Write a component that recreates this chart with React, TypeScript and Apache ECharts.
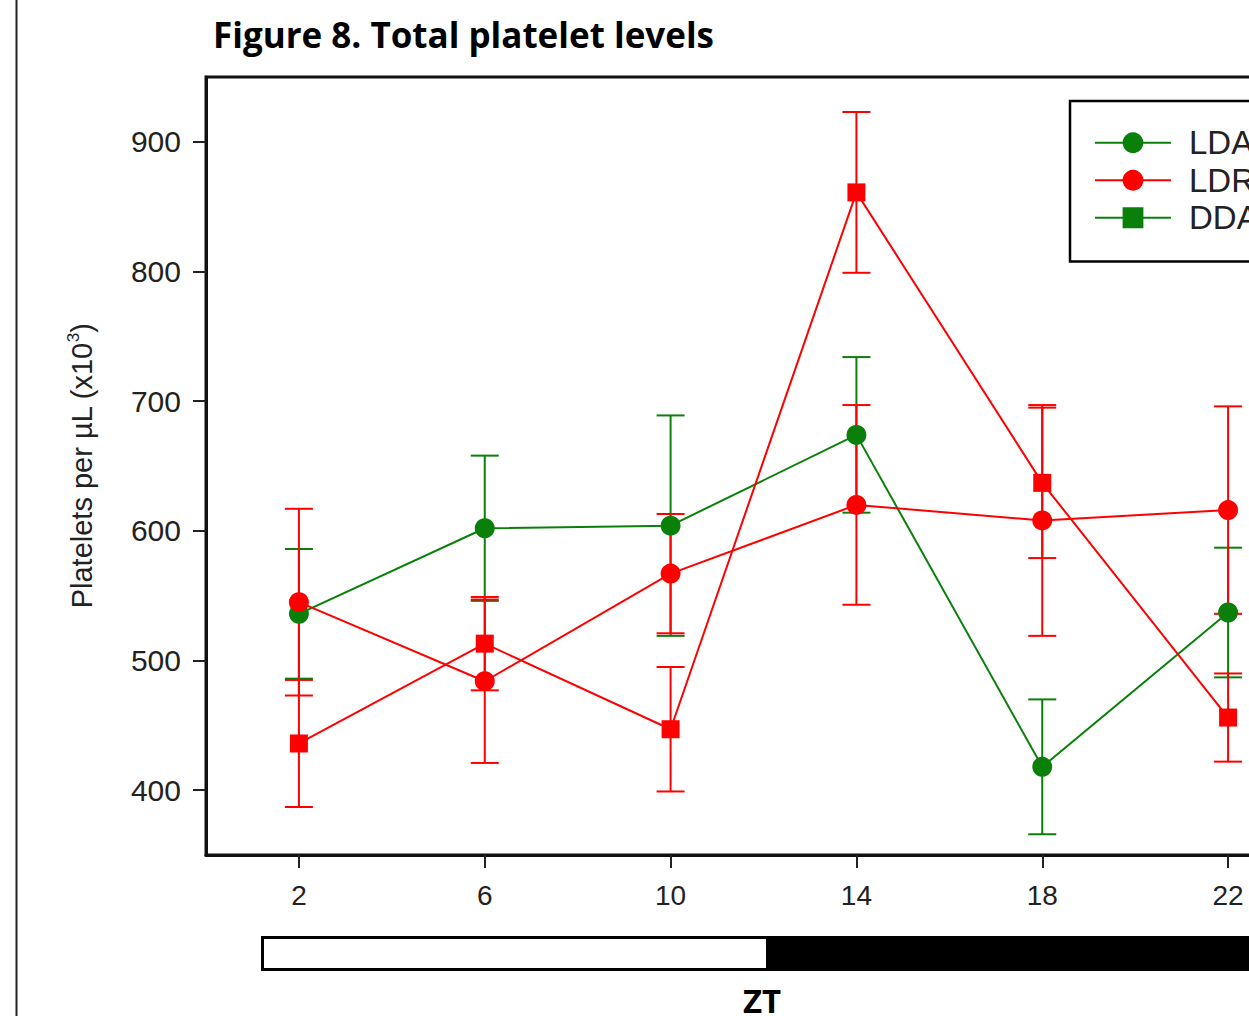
import React, { useEffect, useRef } from "react";
import * as echarts from "echarts";

const ztValues = [2, 6, 10, 14, 18, 22];
const xTickLabels = [2, 6, 10, 14, 18, 22];
const yTickLabels = [400, 500, 600, 700, 800, 900];

const ldaMean = [536, 602, 604, 674, 418, 537];
const ldaErr = [50, 56, 85, 60, 52, 50];
const ldrMean = [545, 484, 567, 620, 608, 616];
const ldrErr = [72, 63, 46, 77, 89, 80];
const ddrMean = [436, 513, 447, 861, 637, 456];
const ddrErr = [49, 36, 48, 62, 58, 34];

const GREEN = "#0a800a";
const RED = "#ff0000";

function errorSeries(mean: number[], err: number[], color: string) {
  return {
    type: "custom",
    silent: true,
    z: 1,
    data: ztValues.map((x, i) => [x, mean[i] - err[i], mean[i] + err[i]]),
    encode: { x: 0, y: [1, 2] },
    renderItem: (params: any, api: any) => {
      const x = api.value(0);
      const lo = api.coord([x, api.value(1)]);
      const hi = api.coord([x, api.value(2)]);
      const w = 14;
      const st = { stroke: color, lineWidth: 2 };
      return {
        type: "group",
        children: [
          { type: "line", shape: { x1: hi[0], y1: hi[1], x2: lo[0], y2: lo[1] }, style: st },
          { type: "line", shape: { x1: hi[0] - w, y1: hi[1], x2: hi[0] + w, y2: hi[1] }, style: st },
          { type: "line", shape: { x1: lo[0] - w, y1: lo[1], x2: lo[0] + w, y2: lo[1] }, style: st },
        ],
      };
    },
  };
}

function lineSeries(name: string, mean: number[], color: string, symbol: string, size: number) {
  return {
    type: "line",
    name,
    z: 3,
    data: mean.map((v, i) => [ztValues[i], v]),
    symbol,
    symbolSize: size,
    showAllSymbol: true,
    itemStyle: { color },
    lineStyle: { color, width: 2 },
    emphasis: { disabled: true },
  };
}

export default function App() {
  const ref = useRef<HTMLDivElement>(null);
  useEffect(() => {
    if (!ref.current) return;
    document.body.style.overflow = "hidden";
    const chart = echarts.init(ref.current, undefined, { renderer: "svg" });
    const font = "Liberation Sans, Arial, sans-serif";
    chart.setOption({
      animation: false,
      backgroundColor: "#ffffff",
      title: {
        text: "Figure 8. Total platelet levels",
        left: 208,
        top: 12,
        textStyle: { fontFamily: "Open Sans, sans-serif", fontWeight: "bold", fontSize: 35, color: "#000" },
      },
      legend: {
        data: ["LDA", "LDR", "DDA"],
        orient: "vertical",
        left: 1070,
        top: 101,
        padding: [23, 24, 25, 24],
        itemGap: 0,
        itemWidth: 76,
        itemHeight: 26,
        borderColor: "#000",
        borderWidth: 2.5,
        textStyle: {
          fontFamily: font,
          fontSize: 33,
          lineHeight: 37.5,
          color: "#222",
          padding: [0, 0, 0, 13],
        },
      },
      grid: {
        left: 206,
        top: 77,
        bottom: 161,
        right: 79,
        show: true,
        borderColor: "#111",
        borderWidth: 3,
        containLabel: false,
      },
      xAxis: {
        type: "value",
        min: 0,
        max: 24,
        axisLine: { lineStyle: { color: "#111", width: 3 } },
        axisTick: { show: true, length: 13, customValues: xTickLabels, lineStyle: { color: "#222", width: 2 } },
        axisLabel: { customValues: xTickLabels, fontFamily: font, fontSize: 28, color: "#222", margin: 26 },
        splitLine: { show: false },
      },
      yAxis: {
        type: "value",
        min: 350,
        max: 950,
        name: "Platelets per µL (x10{sup|3})",
        nameLocation: "middle",
        nameGap: 108,
        nameTextStyle: {
          fontFamily: font,
          fontSize: 29,
          color: "#222",
          rich: { sup: { fontFamily: font, fontSize: 17, color: "#222", padding: [0, 0, 16, 0] } },
        },
        axisLine: { lineStyle: { color: "#111", width: 3 } },
        axisTick: { show: true, length: 13, customValues: yTickLabels, lineStyle: { color: "#222", width: 2 } },
        axisLabel: { customValues: yTickLabels, fontFamily: font, fontSize: 30, color: "#222", margin: 25 },
        splitLine: { show: false },
      },
      graphic: [
        { type: "line", shape: { x1: 16.5, y1: 0, x2: 16.5, y2: 1016 }, style: { stroke: "#222", lineWidth: 2 } },
        { type: "rect", shape: { x: 261, y: 936, width: 1200, height: 35 }, style: { fill: "#000" } },
        { type: "rect", shape: { x: 264, y: 939, width: 502, height: 29 }, style: { fill: "#fff" } },
        {
          type: "text",
          x: 762,
          y: 984,
          style: {
            text: "ZT",
            fontFamily: "Open Sans, sans-serif",
            fontWeight: "bold",
            fontSize: 33,
            fill: "#000",
            align: "center",
            verticalAlign: "top",
          },
        },
      ],
      series: [
        errorSeries(ldaMean, ldaErr, GREEN),
        errorSeries(ldrMean, ldrErr, RED),
        errorSeries(ddrMean, ddrErr, RED),
        lineSeries("LDA", ldaMean, GREEN, "circle", 20),
        lineSeries("LDR", ldrMean, RED, "circle", 20),
        { ...lineSeries("DDA", [], GREEN, "rect", 18), data: [] },
        lineSeries("DDR", ddrMean, RED, "rect", 18),
      ],
    });
    return () => chart.dispose();
  }, []);
  return (
    <div
      ref={ref}
      style={{ position: "fixed", left: 0, top: 0, width: 1400, height: 1016, background: "#fff" }}
    />
  );
}
